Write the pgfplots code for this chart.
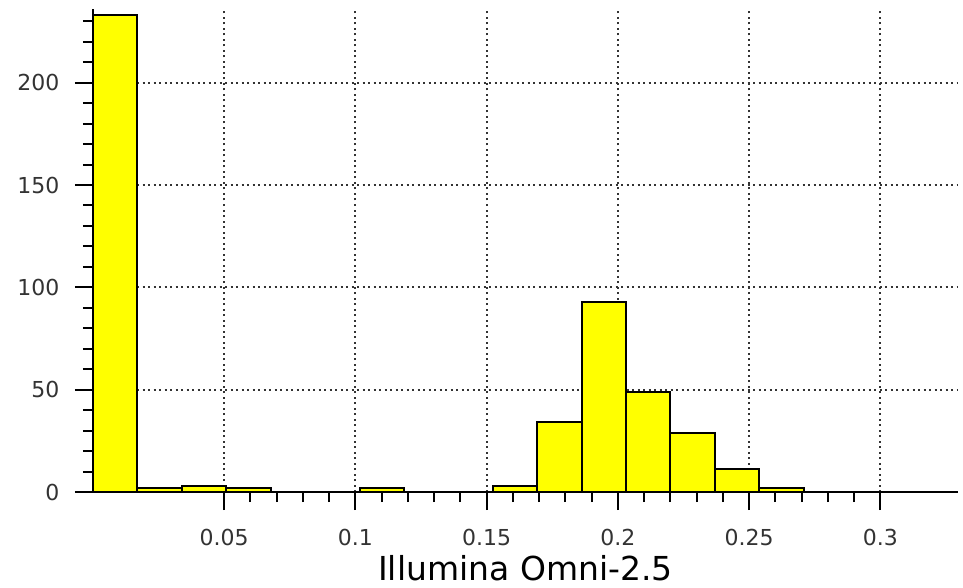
\documentclass[border=0pt]{standalone}
\usepackage{pgfplots}
\pgfplotsset{compat=1.18}
\usepackage{fontspec}
\setmainfont{DejaVu Sans}
\definecolor{txt}{HTML}{333333}
\definecolor{baryellow}{HTML}{FFFF00}
\begin{document}
\begin{tikzpicture}
\useasboundingbox (0,0) rectangle (963pt,587pt);
\begin{axis}[
  at={(93pt,95pt)}, anchor=south west,
  scale only axis, width=865pt, height=483pt,
  xmin=0, xmax=0.3296, ymin=0, ymax=236,
  axis x line=bottom, axis y line=left,
  axis line style={-, line width=2pt, black},
  xtick={0.05,0.1,0.15,0.2,0.25,0.3},
  xticklabels={0.05,0.1,0.15,0.2,0.25,0.3},
  minor x tick num=4,
  ytick={0,50,100,150,200},
  minor ytick={10,20,30,40,60,70,80,90,110,120,130,140,160,170,180,190,210,220,230},
  tick align=outside,
  major tick length=18pt, minor tick length=10pt,
  every tick/.style={line width=2pt, black},
  tick label style={font=\fontsize{22}{26}\selectfont, text=txt},
  xticklabel style={yshift=-16pt},
  yticklabel style={xshift=-12pt},
  /pgf/number format/assume math mode=true,
  xmajorgrids, ymajorgrids,
  major grid style={line width=2pt, black!80, dash pattern=on 2pt off 3.5pt},
  xlabel={Illumina Omni-2.5},
  xlabel style={font=\fontsize{33}{38}\selectfont, text=black, at={(axis description cs:0.5,0)}, anchor=north, yshift=-60pt},
  clip=false,
]
\addplot[ybar interval, fill=baryellow, draw=black, line width=2pt] coordinates {
(0,233) (0.016925,2) (0.03385,3) (0.050775,2) (0.0677,0) (0.084625,0)
(0.10155,2) (0.118475,0) (0.1354,0) (0.152325,3) (0.16925,34)
(0.186175,93) (0.2031,49) (0.220025,29) (0.23695,11) (0.253875,2) (0.2708,0)
};
\end{axis}
\end{tikzpicture}
\end{document}
